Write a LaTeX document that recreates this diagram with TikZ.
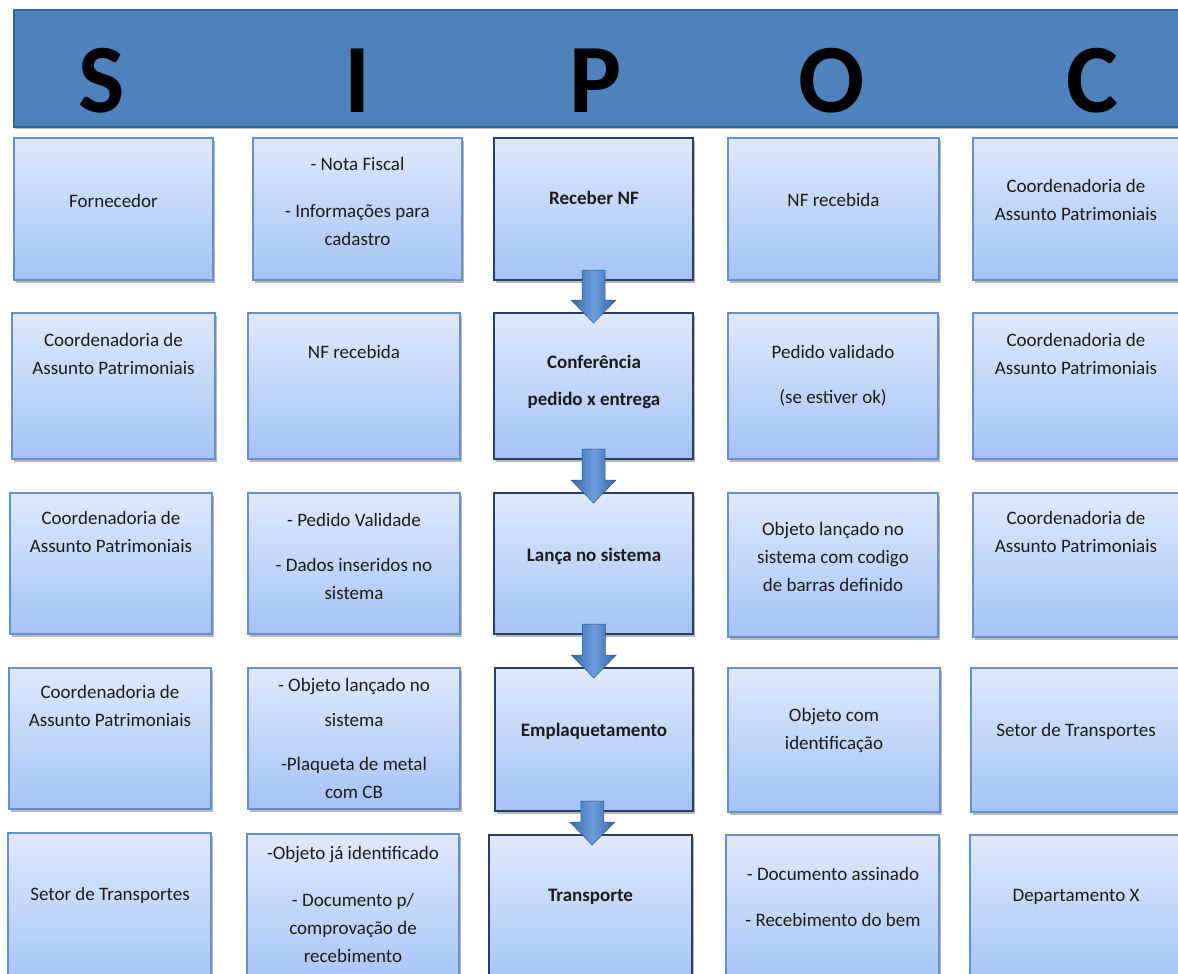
\documentclass[tikz,border=0pt]{standalone}
\usepackage{fontspec}
\setmainfont{Carlito}
\usetikzlibrary{calc,shadows}

\definecolor{hdrfill}{HTML}{4F81BD}
\definecolor{hdrline}{HTML}{3A6494}
\definecolor{celltop}{HTML}{DFE9FB}
\definecolor{cellbot}{HTML}{A5C3F6}
\definecolor{cellline}{HTML}{6590CC}
\definecolor{procline}{HTML}{263F66}
\definecolor{arrowdark}{HTML}{3767A8}
\definecolor{arrowlight}{HTML}{6C9DDD}
\definecolor{ink}{HTML}{1C1C1C}

\tikzset{
  cellbox/.style={rectangle, inner sep=0pt, outer sep=0pt, draw=cellline,
    line width=1.5pt, top color=celltop, bottom color=cellbot,
    drop shadow={shadow xshift=1.5pt, shadow yshift=-2.5pt, opacity=0.28, fill=black}},
  procbox/.style={cellbox, draw=procline},
  txt/.style={align=center, text=ink, inner sep=0pt, font=\fontsize{19}{28}\selectfont},
  boldtxt/.style={txt, font=\fontsize{19}{28}\selectfont\bfseries},
  letter/.style={anchor=base, inner sep=0pt, text=black,
    font=\fontsize{98}{98}\selectfont\bfseries},
  flowarrow/.style={left color=arrowdark, right color=arrowdark,
    middle color=arrowlight, draw=arrowdark!85!black, line width=0.5pt}
}

% box: name, style, left, top, right, bottom
\newcommand\cell[6]{%
  \node[#2, minimum width={#5-#3}, minimum height={#6-#4}] (#1)
    at ({(#3+#5)/2},{(#4+#6)/2}) {};}
% block arrow between two process boxes
\newcommand\flow[2]{%
  \shade[flowarrow] let \p1=(#1.south), \p2=(#2.north), \n1={(\x1+\x2)/2} in
    (\n1-11.5pt,\y1+10pt) -- (\n1+11.5pt,\y1+10pt) -- (\n1+11.5pt,\y2+13pt)
    -- (\n1+22.5pt,\y2+13pt) -- (\n1,\y2-10pt) -- (\n1-22.5pt,\y2+13pt)
    -- (\n1-11.5pt,\y2+13pt) -- cycle;}

\begin{document}
\begin{tikzpicture}[x=1pt,y=-1pt]
\useasboundingbox (0,0) rectangle (1178,974);
\clip (0,0) rectangle (1178,974);

% title band
\node[rectangle, inner sep=0pt, draw=hdrline, fill=hdrfill, line width=2pt,
  minimum width=1186, minimum height=117,
  drop shadow={shadow xshift=1pt, shadow yshift=-2pt, opacity=0.25, fill=black}]
  (header) at (607,68.5) {};
\node[letter] (hS) at (102,112) {S};
\node[letter] (hI) at (357.5,112) {I};
\node[letter] (hP) at (596,112) {P};
\node[letter] (hO) at (832,112) {O};
\node[letter] (hC) at (1092,112) {C};

% row 1
\cell{s1}{cellbox}{14}{138}{213}{280}
\cell{i1}{cellbox}{253}{138}{462}{280}
\cell{p1}{procbox}{494}{138}{693}{280}
\cell{o1}{cellbox}{728}{138}{939}{280}
\cell{c1}{cellbox}{973}{138}{1190}{280}
% row 2
\cell{s2}{cellbox}{12}{313}{215}{459}
\cell{i2}{cellbox}{248}{313}{460}{459}
\cell{p2}{procbox}{494}{313}{693}{459}
\cell{o2}{cellbox}{728}{313}{938}{459}
\cell{c2}{cellbox}{973}{313}{1190}{459}
% row 3
\cell{s3}{cellbox}{10}{493}{212}{634}
\cell{i3}{cellbox}{248}{493}{460}{634}
\cell{p3}{procbox}{494}{493}{693}{634}
\cell{o3}{cellbox}{728}{493}{938}{637}
\cell{c3}{cellbox}{973}{493}{1190}{637}
% row 4
\cell{s4}{cellbox}{9}{668}{211}{809}
\cell{i4}{cellbox}{248}{668}{460}{809}
\cell{p4}{procbox}{495}{668}{693}{811}
\cell{o4}{cellbox}{728}{668}{940}{812}
\cell{c4}{cellbox}{971}{668}{1190}{812}
% row 5
\cell{s5}{cellbox}{8}{833}{211}{990}
\cell{i5}{cellbox}{247}{834}{459}{990}
\cell{p5}{procbox}{489}{835}{692}{990}
\cell{o5}{cellbox}{726}{835}{939}{990}
\cell{c5}{cellbox}{970}{835}{1190}{990}

% process flow
\flow{p1}{p2}
\flow{p2}{p3}
\flow{p3}{p4}
\flow{p4}{p5}

% texts, row 1
\node[txt] (s1t) at (113.5,201) {Fornecedor};
\node[txt] (i1t) at (357.5,201) {- Nota Fiscal\\[19pt]- Informações para\\cadastro};
\node[boldtxt] (p1t) at (594,198) {Receber NF};
\node[txt] (o1t) at (833.5,200) {NF recebida};
\node[txt] (c1t) at (1076,200) {Coordenadoria de\\Assunto Patrimoniais};
% row 2
\node[txt] (s2t) at (113.5,354) {Coordenadoria de\\Assunto Patrimoniais};
\node[txt] (i2t) at (354,352) {NF recebida};
\node[boldtxt] (p2t) at (594,382) {Conferência\\[9pt]pedido x entrega};
\node[txt] (o2t) at (833,376) {Pedido validado\\[17pt](se estiver ok)};
\node[txt] (c2t) at (1076,354) {Coordenadoria de\\Assunto Patrimoniais};
% row 3
\node[txt] (s3t) at (111,532) {Coordenadoria de\\Assunto Patrimoniais};
\node[txt] (i3t) at (354,556) {- Pedido Validade\\[17pt]- Dados inseridos no\\sistema};
\node[boldtxt] (p3t) at (594,556) {Lança no sistema};
\node[txt] (o3t) at (833,557) {Objeto lançado no\\sistema com codigo\\de barras definido};
\node[txt] (c3t) at (1076,532) {Coordenadoria de\\Assunto Patrimoniais};
% row 4
\node[txt] (s4t) at (110,706) {Coordenadoria de\\Assunto Patrimoniais};
\node[txt] (i4t) at (354,738) {- Objeto lançado no\\[7pt]sistema\\[16pt]-Plaqueta de metal\\com CB};
\node[boldtxt] (p4t) at (594,731) {Emplaquetamento};
\node[txt] (o4t) at (834,730) {Objeto com\\identificação};
\node[txt] (c4t) at (1076,731) {Setor de Transportes};
% row 5
\node[txt] (s5t) at (110,895) {Setor de Transportes};
\node[txt] (i5t) at (353,904) {-Objeto já identificado\\[19pt]- Documento p/\\comprovação de\\recebimento};
\node[boldtxt] (p5t) at (590.5,897) {Transporte};
\node[txt] (o5t) at (833,897) {- Documento assinado\\[18pt]- Recebimento do bem};
\node[txt] (c5t) at (1076,897) {Departamento X};
\end{tikzpicture}
\end{document}
